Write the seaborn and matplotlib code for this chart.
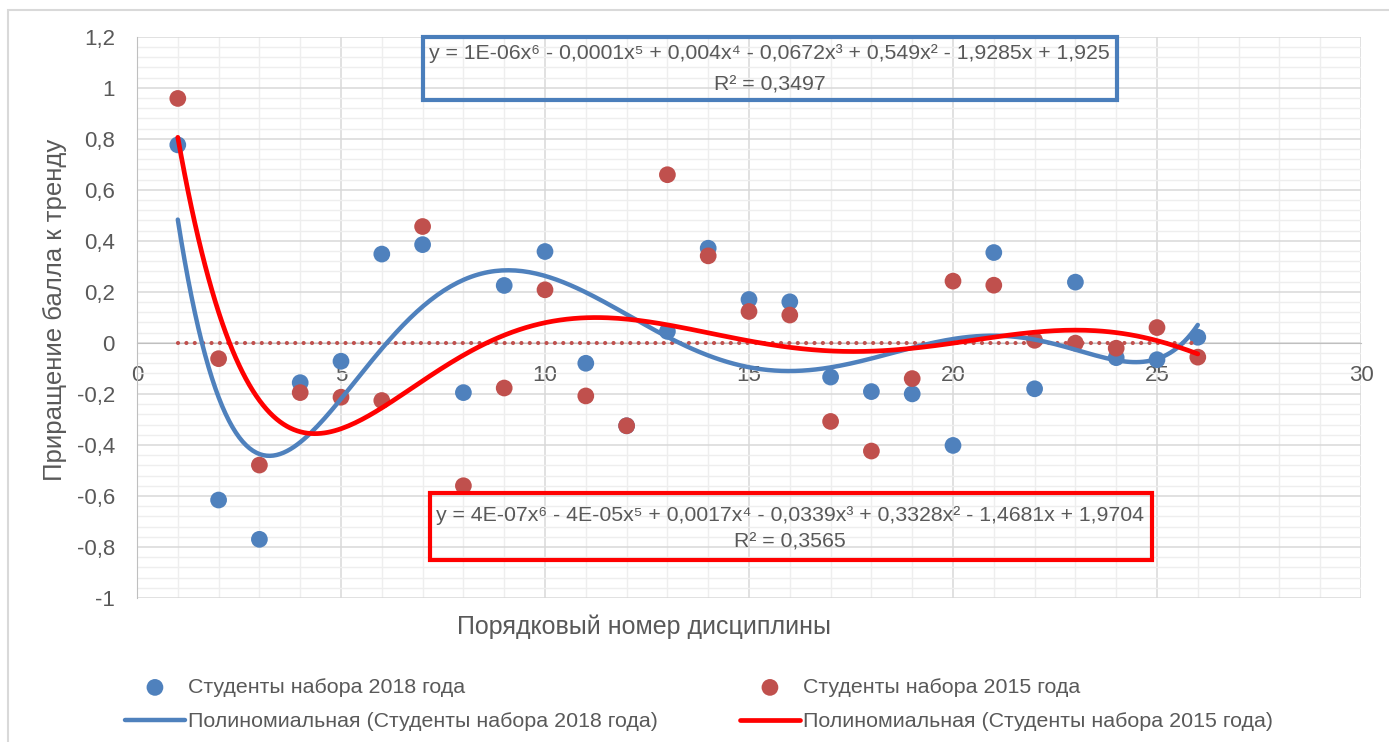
import numpy as np
import pandas as pd
import matplotlib.pyplot as plt
import seaborn as sns
from matplotlib.ticker import MultipleLocator, FuncFormatter
from matplotlib.patches import Rectangle

# порядковые номера дисциплин и приращения балла к тренду
nums = list(range(1, 27))
grp_2018 = [0.776, -0.616, -0.770, -0.156, -0.072, 0.348, 0.385, -0.195, 0.225, 0.358,
            -0.080, -0.325, 0.045, 0.371, 0.170, 0.161, -0.134, -0.191, -0.200, -0.402,
            0.354, -0.180, 0.238, -0.058, -0.066, 0.022]
grp_2015 = [0.958, -0.062, -0.479, -0.195, -0.213, -0.226, 0.456, -0.560, -0.177, 0.208,
            -0.208, -0.325, 0.659, 0.341, 0.123, 0.109, -0.308, -0.424, -0.140, 0.242,
            0.226, 0.010, -0.001, -0.021, 0.060, -0.056]
baseline = [0] * 26

lab_18 = 'Студенты набора 2018 года'
lab_15 = 'Студенты набора 2015 года'
lab_18_fit = 'Полиномиальная (Студенты набора 2018 года)'
lab_15_fit = 'Полиномиальная (Студенты набора 2015 года)'
eq_18 = 'y = 1E-06x⁶ - 0,0001x⁵ + 0,004x⁴ - 0,0672x³ + 0,549x² - 1,9285x + 1,925'
r2_18 = 'R² = 0,3497'
eq_15 = 'y = 4E-07x⁶ - 4E-05x⁵ + 0,0017x⁴ - 0,0339x³ + 0,3328x² - 1,4681x + 1,9704'
r2_15 = 'R² = 0,3565'

blue = '#4F81BD'
red_pt = '#C0504D'
red_ln = '#FF0000'
txt = '#595959'

sns.set_style('white')
plt.rcParams['font.family'] = ['Liberation Sans', 'DejaVu Sans']

fig = plt.figure(figsize=(13.89, 7.42), dpi=100)
W, H = 1389, 742
ax = fig.add_axes([137 / W, 1 - 598 / H, (1361 - 137) / W, (598 - 36.7) / H])

# точки
sns.scatterplot(x=nums, y=grp_2018, color=blue, s=145, edgecolor='none', label=lab_18, ax=ax, zorder=3)
sns.scatterplot(x=nums, y=grp_2015, color=red_pt, s=145, edgecolor='none', label=lab_15, ax=ax, zorder=3)
ax.plot(nums, baseline, color=red_pt, lw=3.0, linestyle=(0, (0.01, 2.0)), dash_capstyle='round', zorder=4)

# полиномиальные тренды 6-й степени
xs = np.linspace(1, 26, 300)
fit_18 = np.polyfit(nums, grp_2018, 6)
fit_15 = np.polyfit(nums, grp_2015, 6)
sns.lineplot(x=xs, y=np.polyval(fit_18, xs), color=blue, lw=3.2, label=lab_18_fit, ax=ax, zorder=5)
sns.lineplot(x=xs, y=np.polyval(fit_15, xs), color=red_ln, lw=3.4, label=lab_15_fit, ax=ax, zorder=6)

ax.set_xlim(0, 30)
ax.set_ylim(-1, 1.2)
ax.xaxis.set_major_locator(MultipleLocator(5))
ax.xaxis.set_minor_locator(MultipleLocator(1))
ax.yaxis.set_major_locator(MultipleLocator(0.2))
ax.yaxis.set_minor_locator(MultipleLocator(0.04))
ax.grid(which='major', color='#D9D9D9', lw=1.1)
ax.grid(which='minor', color='#EEEEEE', lw=1.0)
ax.set_axisbelow(True)

fmt = FuncFormatter(lambda v, p: ('%g' % (round(v, 2) if abs(v) > 1e-9 else 0)).replace('.', ','))
ax.xaxis.set_major_formatter(fmt)
ax.yaxis.set_major_formatter(fmt)

for s in ['top', 'right']:
    ax.spines[s].set_visible(False)
ax.spines['left'].set_color('#BFBFBF')
ax.spines['bottom'].set_color('#BFBFBF')
ax.spines['bottom'].set_position(('data', 0))
ax.tick_params(axis='x', which='major', direction='out', length=6, color='#BFBFBF', pad=10,
               labelsize=16, labelcolor=txt)
ax.tick_params(axis='y', which='major', direction='out', length=7, color='#BFBFBF', pad=9,
               labelsize=16, labelcolor=txt)
ax.tick_params(which='minor', length=0)
ax.set_xlabel('')
ax.set_ylabel('')

fig.text(55 / W, 1 - 310 / H, 'Приращение балла к тренду', rotation=90, ha='center', va='center',
         fontsize=18.5, color=txt)
fig.text(644 / W, 1 - 627 / H, 'Порядковый номер дисциплины', ha='center', va='center',
         fontsize=18, color=txt)

# рамки с уравнениями
ax.add_patch(Rectangle((7.0, 0.953), 17.03, 0.247, fill=False, edgecolor='#4A7EBB', lw=3, clip_on=False, zorder=8))
ax.text(15.5, 1.133, eq_18, ha='center', va='center', fontsize=15.3, color=txt, zorder=8)
ax.text(15.5, 1.012, r2_18, ha='center', va='center', fontsize=15.3, color=txt, zorder=8)
ax.add_patch(Rectangle((7.19, -0.851), 17.68, 0.263, fill=False, edgecolor=red_ln, lw=3, clip_on=False, zorder=8))
ax.text(16.0, -0.678, eq_15, ha='center', va='center', fontsize=15.3, color=txt, zorder=8)
ax.text(16.0, -0.780, r2_15, ha='center', va='center', fontsize=15.3, color=txt, zorder=8)

# легенда в две колонки
hs, ls = ax.get_legend_handles_labels()
hd = dict(zip(ls, hs))
if ax.legend_:
    ax.legend_.remove()
kw = dict(frameon=False, fontsize=15.4, handlelength=2.8, handletextpad=0.15, labelspacing=0.7,
          borderpad=0, borderaxespad=0, labelcolor=txt, loc='center left')
leg1 = fig.legend([hd[lab_18], hd[lab_18_fit]], [lab_18, lab_18_fit], bbox_to_anchor=(125 / W, 1 - 704.5 / H), **kw)
leg2 = fig.legend([hd[lab_15], hd[lab_15_fit]], [lab_15, lab_15_fit], bbox_to_anchor=(740 / W, 1 - 704.5 / H), **kw)

fig.add_artist(Rectangle((8 / W, -0.1), 1.2, 1.1 - 10 / H, transform=fig.transFigure, fill=False,
                         edgecolor='#D9D9D9', lw=1.5))

fig.savefig('out.png', dpi=100)
